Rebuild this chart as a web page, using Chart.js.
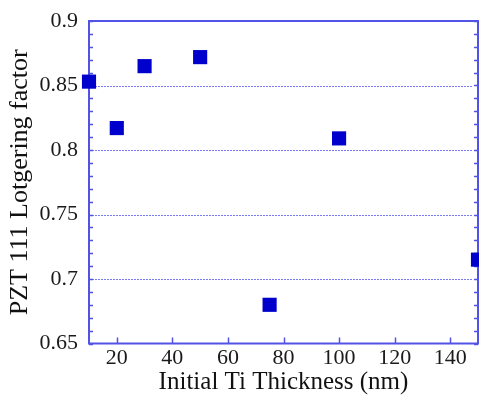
<!DOCTYPE html>
<html>
<head>
<meta charset="utf-8">
<script src="https://cdn.jsdelivr.net/npm/chart.js@4/dist/chart.umd.min.js"></script>
<style>
  html, body { margin: 0; padding: 0; background: #fff; }
  #wrap { width: 479px; height: 403px; }
</style>
</head>
<body>
<div id="wrap"><canvas id="chart" width="479" height="403"></canvas></div>
<script>
// data
const thickness = [10, 20, 30, 50, 75, 100, 150];
const lotgering = [0.853, 0.817, 0.865, 0.872, 0.680, 0.809, 0.715];

const xTicks = [20, 40, 60, 80, 100, 120, 140];
const yTicks = [0.65, 0.7, 0.75, 0.8, 0.85, 0.9];
const yGridLines = [0.7, 0.75, 0.8, 0.85];

const serif = "'Liberation Serif', 'Times New Roman', 'DejaVu Serif', serif";
const axisBlue = '#5252e6';
const pointBlue = '#0000cc';

Chart.defaults.font.family = serif;

// frame, dotted grid and inward ticks
const framePlugin = {
  id: 'frame',
  beforeDatasetsDraw(chart) {
    const { ctx, chartArea: a, scales: { x, y } } = chart;
    ctx.save();
    ctx.strokeStyle = '#7a7af0';
    ctx.lineWidth = 1;
    ctx.setLineDash([2, 1]);
    yGridLines.forEach(v => {
      const py = Math.round(y.getPixelForValue(v)) + 0.5;
      ctx.beginPath();
      ctx.moveTo(a.left, py);
      ctx.lineTo(a.right - 6, py);
      ctx.stroke();
    });
    ctx.setLineDash([]);
    ctx.strokeStyle = axisBlue;
    ctx.lineWidth = 1.5;
    // minor ticks on left and right every 0.01
    for (let i = 0; i <= 25; i++) {
      const py = Math.round(y.getPixelForValue(0.65 + i * 0.01)) + 0.5;
      ctx.beginPath();
      ctx.moveTo(a.left, py);
      ctx.lineTo(a.left + 4, py);
      ctx.moveTo(a.right, py);
      ctx.lineTo(a.right - 4, py);
      ctx.stroke();
    }
    xTicks.forEach(v => {
      const px = Math.round(x.getPixelForValue(v)) + 0.5;
      ctx.beginPath();
      ctx.moveTo(px, a.bottom);
      ctx.lineTo(px, a.bottom - 6);
      ctx.stroke();
    });
    ctx.lineWidth = 2;
    ctx.strokeRect(a.left, a.top, a.right - a.left, a.bottom - a.top);
    ctx.restore();
  }
};

new Chart(document.getElementById('chart'), {
  type: 'scatter',
  data: {
    datasets: [{
      data: thickness.map((t, i) => ({ x: t, y: lotgering[i] })),
      pointStyle: 'rect',
      pointRadius: 10,
      pointHoverRadius: 10,
      backgroundColor: pointBlue,
      borderColor: pointBlue,
      borderWidth: 0,
      clip: false
    }]
  },
  options: {
    responsive: false,
    animation: false,
    events: [],
    layout: { autoPadding: false, padding: { top: 21, right: 1, left: 0, bottom: 0 } },
    plugins: { legend: { display: false }, tooltip: { enabled: false } },
    scales: {
      x: {
        type: 'linear',
        min: 10,
        max: 150,
        afterBuildTicks: s => { s.ticks = xTicks.map(v => ({ value: v })); },
        afterFit: s => { s.height = 59.5; s.paddingLeft = 0; s.paddingRight = 0; },
        grid: { display: false, drawTicks: false },
        border: { display: false },
        ticks: {
          padding: 2,
          maxRotation: 0,
          color: '#1a1a1a',
          font: { family: serif, size: 22 }
        },
        title: {
          display: true,
          text: 'Initial Ti Thickness (nm)',
          color: '#111',
          font: { family: serif, size: 25 },
          padding: { top: 0, bottom: 6 }
        }
      },
      y: {
        min: 0.65,
        max: 0.9,
        afterBuildTicks: s => { s.ticks = yTicks.map(v => ({ value: v })); },
        afterFit: s => { s.width = 89; s.paddingTop = 0; s.paddingBottom = 0; },
        grid: { display: false, drawTicks: false },
        border: { display: false },
        ticks: {
          padding: 11,
          color: '#1a1a1a',
          font: { family: serif, size: 22 },
          callback: v => String(Math.round(v * 100) / 100)
        },
        title: {
          display: true,
          text: 'PZT 111 Lotgering factor',
          color: '#111',
          font: { family: serif, size: 26 },
          padding: { top: 5, bottom: 0 }
        }
      }
    }
  },
  plugins: [framePlugin]
});
</script>
</body>
</html>
